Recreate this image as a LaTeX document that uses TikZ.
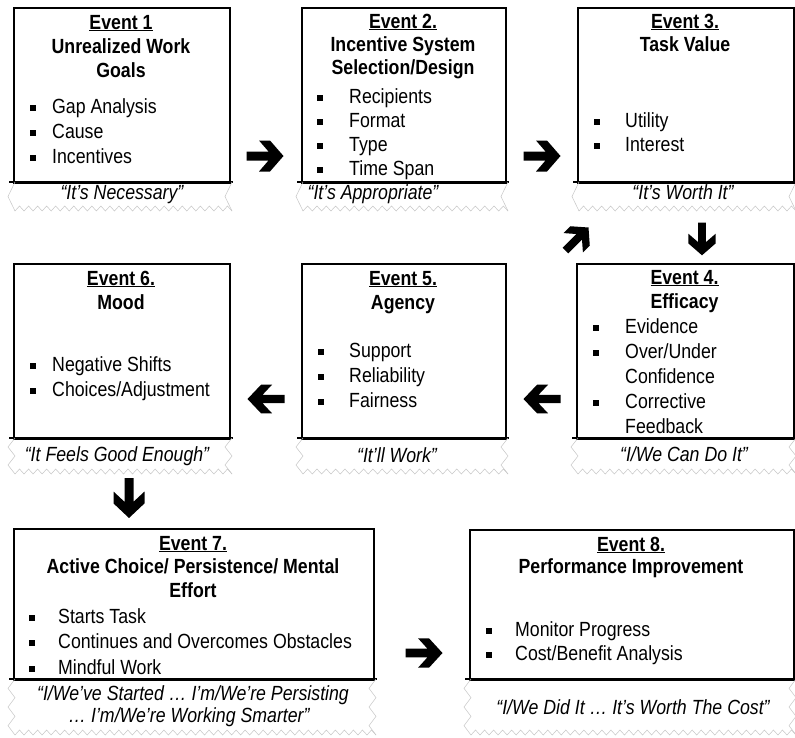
\documentclass[tikz,border=0pt]{standalone}
\usepackage{fontspec}
\setmainfont{Liberation Sans}[FakeStretch=0.865]
\usetikzlibrary{calc}
\newcommand\evfs{\fontsize{20.5}{24}\selectfont}
\newcommand\hl[4]{\node[hd] (#1) at (#2,#3) {#4};}
\newcommand\bl[5]{\node[bq] (#1q) at (#2,{#4-5}) {}; \node[bt] (#1) at (#3,#4) {#5};}
\newcommand\tl[4]{\node[bt] (#1) at (#2,#3) {#4};}
\newcommand\cl[4]{\node[captxt] (#1) at (#2,#3) {#4};}
\newcommand\band[5]{%
  \draw[line width=1.8pt] ({#1-4},#3) -- ({#2+4},#3);
  \pgfmathsetmacro\bandth{(#4-#3)/#5}
  \draw[zz] ({#1+2},#3) \foreach \i in {1,...,#5}{ -- ({#1-5},{#3+(\i-0.5)*\bandth}) -- ({#1+2},{#3+\i*\bandth}) };
  \draw[zz] ({#2+3},#3) \foreach \i in {1,...,#5}{ -- ({#2-4},{#3+(\i-0.5)*\bandth}) -- ({#2+3},{#3+\i*\bandth}) };
  \pgfmathtruncatemacro\bandnt{(#2+1-#1)/9}
  \pgfmathsetmacro\bandw{(#2+1-#1)/\bandnt}
  \draw[zz] ({#1+2},#4) \foreach \i in {1,...,\bandnt}{ -- ({#1+2+(\i-0.5)*\bandw},{#4-5}) -- ({#1+2+\i*\bandw},#4) };
}
\begin{document}
\begin{tikzpicture}[x=1pt,y=-1pt,
  evbox/.style={draw, line width=1.8pt, anchor=north west, inner sep=0pt},
  hd/.style={inner sep=0pt, font=\evfs\bfseries, anchor=base},
  bt/.style={inner sep=0pt, font=\evfs, anchor=base west},
  bq/.style={fill, inner sep=0pt, minimum size=6pt, rectangle},
  captxt/.style={inner sep=0pt, font=\evfs\itshape, anchor=base},
  zz/.style={draw=gray!45, line width=0.5pt},
  barrow/.pic={\fill (-18.5,-4.5) -- (3.5,-4.5) -- (-6,-15.5) -- (5,-15.5) -- (18.5,0) -- (5,15.5) -- (-6,15.5) -- (3.5,4.5) -- (-18.5,4.5) -- cycle;}
]
\useasboundingbox (0,0) rectangle (795,737);
\fill[white] (0,0) rectangle (795,737);

% ---------- Row 1 ----------
\node[evbox, minimum width=216pt, minimum height=175pt] (b1) at (13,7) {};
\band{13}{229}{182}{211}{1}
\hl{b1h1}{121}{29}{\underline{Event 1}}
\hl{b1h2}{121}{53}{Unrealized Work}
\hl{b1h3}{121}{77}{Goals}
\bl{b1l1}{32.5}{52}{113}{Gap Analysis}
\bl{b1l2}{32.5}{52}{138}{Cause}
\bl{b1l3}{32.5}{52}{163}{Incentives}
\cl{b1c}{122}{199}{“It’s Necessary”}

\node[evbox, minimum width=204pt, minimum height=175pt] (b2) at (301,7) {};
\band{301}{505}{182}{211}{1}
\hl{b2h1}{403}{28}{\underline{Event 2.}}
\hl{b2h2}{403}{51}{Incentive System}
\hl{b2h3}{403}{74}{Selection/Design}
\bl{b2l1}{320}{349}{103}{Recipients}
\bl{b2l2}{320}{349}{127}{Format}
\bl{b2l3}{320}{349}{151}{Type}
\bl{b2l4}{320}{349}{175}{Time Span}
\cl{b2c}{373}{199}{“It’s Appropriate”}

\node[evbox, minimum width=216pt, minimum height=175pt] (b3) at (577,7) {};
\band{577}{793}{182}{211}{1}
\hl{b3h1}{685}{28}{\underline{Event 3.}}
\hl{b3h2}{685}{51}{Task Value}
\bl{b3l1}{597}{625}{127}{Utility}
\bl{b3l2}{597}{625}{151}{Interest}
\cl{b3c}{683}{199}{“It’s Worth It”}

% ---------- Row 2 ----------
\node[evbox, minimum width=216pt, minimum height=175pt] (b6) at (13,263) {};
\band{13}{229}{438}{474}{2}
\hl{b6h1}{121}{285}{\underline{Event 6.}}
\hl{b6h2}{121}{309}{Mood}
\bl{b6l1}{32.5}{52}{371}{Negative Shifts}
\bl{b6l2}{32.5}{52}{396}{Choices/Adjustment}
\cl{b6c}{117}{461}{“It Feels Good Enough”}

\node[evbox, minimum width=204pt, minimum height=175pt] (b5) at (301,263) {};
\band{301}{505}{438}{474}{2}
\hl{b5h1}{403}{285}{\underline{Event 5.}}
\hl{b5h2}{403}{309}{Agency}
\bl{b5l1}{320.5}{349}{357}{Support}
\bl{b5l2}{320.5}{349}{382}{Reliability}
\bl{b5l3}{320.5}{349}{407}{Fairness}
\cl{b5c}{397}{462}{“It’ll Work”}

\node[evbox, minimum width=217pt, minimum height=175pt] (b4) at (576,263) {};
\band{576}{793}{438}{474}{2}
\hl{b4h1}{684.5}{284}{\underline{Event 4.}}
\hl{b4h2}{684.5}{308}{Efficacy}
\bl{b4l1}{596}{625}{333}{Evidence}
\bl{b4l2}{596}{625}{358}{Over/Under}
\tl{b4l3}{625}{383}{Confidence}
\bl{b4l4}{596}{625}{408}{Corrective}
\tl{b4l5}{625}{433}{Feedback}
\cl{b4c}{684}{461}{“I/We Can Do It”}

% ---------- Row 3 ----------
\node[evbox, minimum width=360pt, minimum height=151pt] (b7) at (13,528) {};
\band{13}{373}{679}{735}{3}
\hl{b7h1}{193}{550}{\underline{Event 7.}}
\hl{b7h2}{193}{573}{Active Choice/ Persistence/ Mental}
\hl{b7h3}{193}{597}{Effort}
\bl{b7l1}{31.5}{58}{623}{Starts Task}
\bl{b7l2}{31.5}{58}{648}{Continues and Overcomes Obstacles}
\bl{b7l3}{31.5}{58}{674}{Mindful Work}
\cl{b7c1}{193}{700}{“I/We’ve Started … I’m/We’re Persisting}
\cl{b7c2}{189}{722}{… I’m/We’re Working Smarter”}

\node[evbox, minimum width=324pt, minimum height=150pt] (b8) at (469,529) {};
\band{469}{793}{679}{735}{3}
\hl{b8h1}{631}{551}{\underline{Event 8.}}
\hl{b8h2}{631}{573}{Performance Improvement}
\bl{b8l1}{488.5}{515}{636}{Monitor Progress}
\bl{b8l2}{488.5}{515}{660}{Cost/Benefit Analysis}
\cl{b8c}{633}{714}{“I/We Did It … It’s Worth The Cost”}

% ---------- block arrows ----------
\pic (a12) at (265,156) {barrow};
\pic (a23) at (542,156) {barrow};
\pic[rotate=45, scale=0.88] (a43) at (577,239) {barrow};
\pic[rotate=-90, scale=0.88] (a34) at (702,239) {barrow};
\pic[rotate=180, yscale=0.92] (a45) at (542,399) {barrow};
\pic[rotate=180, yscale=0.92] (a56) at (266,399) {barrow};
\pic[rotate=-90, xscale=1.08] (a67) at (129,498) {barrow};
\pic[yscale=0.95] (a78) at (424,653) {barrow};
\end{tikzpicture}
\end{document}
